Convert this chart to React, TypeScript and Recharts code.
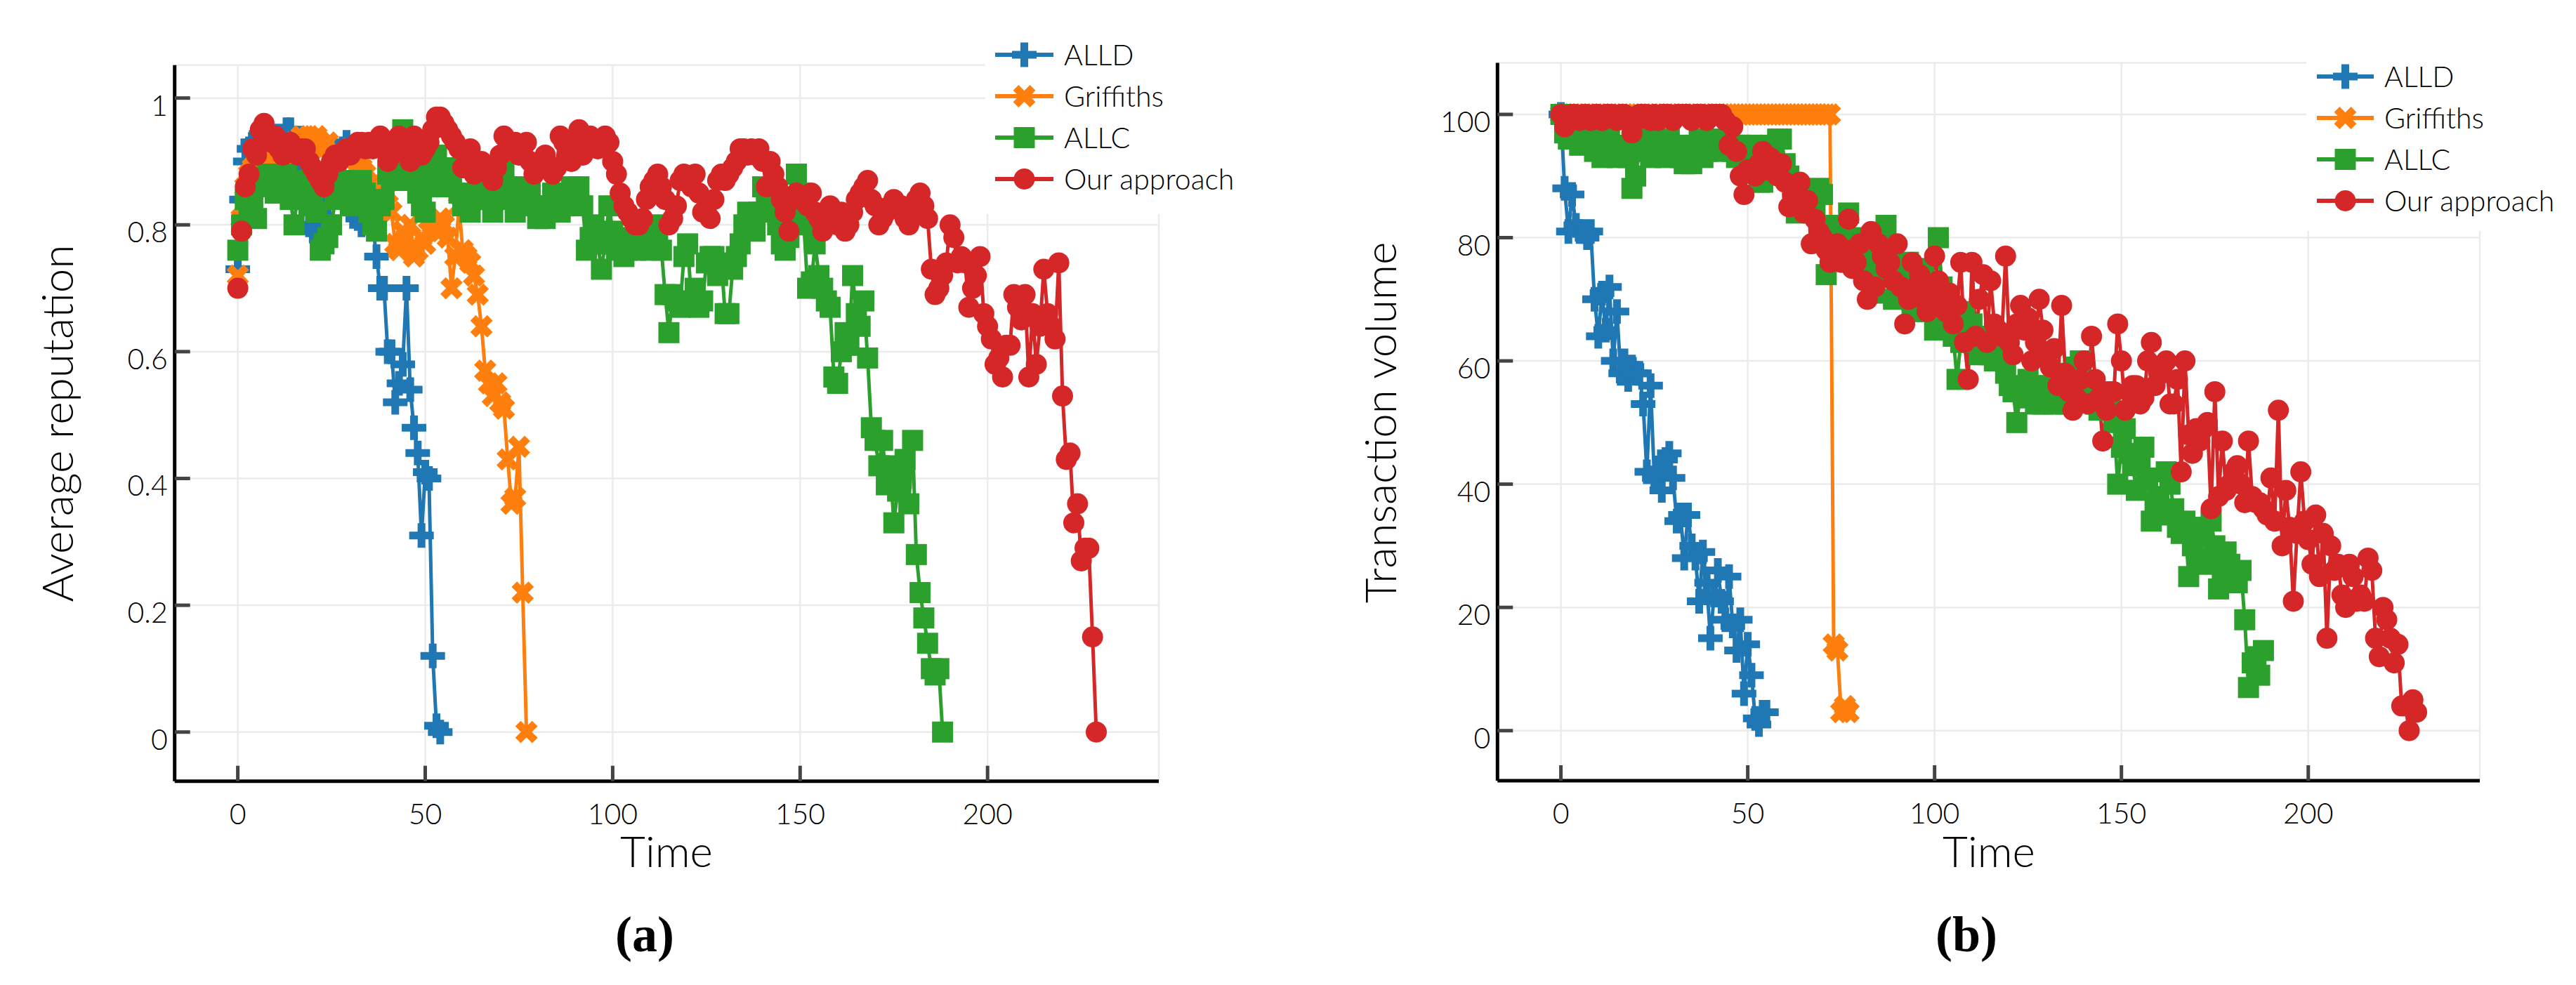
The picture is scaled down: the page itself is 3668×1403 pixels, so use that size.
import React from 'react';
import { LineChart, Line, XAxis, YAxis, CartesianGrid, Legend } from 'recharts';

const BLUE = '#1f77b4';
const ORANGE = '#ff7f0e';
const GREEN = '#2ca02c';
const RED = '#d62728';
const FONT = 'Lato, "DejaVu Sans", sans-serif';

const seriesNames = ['ALLD', 'Griffiths', 'ALLC', 'Our approach'];
const xTicks = [0, 50, 100, 150, 200];
const repTicks = [0, 0.2, 0.4, 0.6, 0.8, 1];
const volTicks = [0, 20, 40, 60, 80, 100];

// (a) Average reputation, one value per time step
const repALLD = [
  0.73, 0.84, 0.9, 0.92, 0.93, 0.93, 0.94, 0.93, 0.92, 0.93,
  0.94, 0.93, 0.94, 0.95, 0.95, 0.92, 0.9, 0.87, 0.84, 0.8,
  0.79, 0.82, 0.84, 0.83, 0.81, 0.85, 0.88, 0.9, 0.92, 0.93,
  0.91, 0.85, 0.81, 0.8, 0.82, 0.83, 0.8, 0.75, 0.7, 0.7,
  0.6, 0.6, 0.52, 0.55, 0.58, 0.7, 0.54, 0.48, 0.44, 0.31,
  0.41, 0.4, 0.12, 0.01, 0.0,
];
const repGriffiths = [
  0.72, 0.81, 0.86, 0.88, 0.89, 0.9, 0.91, 0.91, 0.92, 0.91,
  0.92, 0.91, 0.92, 0.91, 0.92, 0.93, 0.92, 0.94, 0.93, 0.94,
  0.93, 0.94, 0.93, 0.92, 0.93, 0.9, 0.88, 0.86, 0.87, 0.9,
  0.92, 0.91, 0.9, 0.89, 0.88, 0.86, 0.85, 0.87, 0.85, 0.84,
  0.85, 0.82, 0.77, 0.76, 0.79, 0.78, 0.8, 0.75, 0.76, 0.78,
  0.77, 0.79, 0.8, 0.79, 0.81, 0.8, 0.78, 0.7, 0.75, 0.83,
  0.76, 0.75, 0.74, 0.72, 0.69, 0.64, 0.57, 0.55, 0.53, 0.55,
  0.52, 0.51, 0.43, 0.36, 0.37, 0.45, 0.22, 0.0,
];
const repALLC = [
  0.76, 0.8, 0.84, 0.82, 0.83, 0.81, 0.86, 0.87, 0.88, 0.88,
  0.85, 0.87, 0.86, 0.88, 0.84, 0.8, 0.85, 0.87, 0.84, 0.83,
  0.85, 0.82, 0.76, 0.77, 0.78, 0.8, 0.84, 0.86, 0.87, 0.85,
  0.83, 0.83, 0.86, 0.87, 0.85, 0.82, 0.8, 0.79, 0.83, 0.84,
  0.88, 0.87, 0.9, 0.92, 0.95, 0.9, 0.87, 0.88, 0.85, 0.83,
  0.82, 0.86, 0.88, 0.91, 0.88, 0.86, 0.87, 0.88, 0.89, 0.85,
  0.83, 0.85, 0.82, 0.84, 0.86, 0.88, 0.87, 0.84, 0.82, 0.85,
  0.87, 0.89, 0.86, 0.84, 0.82, 0.84, 0.86, 0.85, 0.85, 0.83,
  0.81, 0.83, 0.81, 0.83, 0.85, 0.84, 0.82, 0.83, 0.85, 0.86,
  0.84, 0.86, 0.83, 0.76, 0.78, 0.8, 0.77, 0.73, 0.77, 0.83,
  0.79, 0.76, 0.77, 0.75, 0.76, 0.78, 0.76, 0.77, 0.79, 0.78,
  0.76, 0.8, 0.79, 0.76, 0.69, 0.63, 0.69, 0.68, 0.67, 0.75,
  0.77, 0.68, 0.7, 0.67, 0.68, 0.74, 0.75, 0.75, 0.72, 0.74,
  0.66, 0.66, 0.73, 0.75, 0.77, 0.8, 0.82, 0.81, 0.79, 0.82,
  0.86, 0.83, 0.84, 0.84, 0.8, 0.77, 0.76, 0.78, 0.82, 0.88,
  0.85, 0.8, 0.7, 0.71, 0.77, 0.72, 0.7, 0.68, 0.67, 0.56,
  0.55, 0.6, 0.63, 0.61, 0.72, 0.66, 0.64, 0.68, 0.59, 0.48,
  0.46, 0.42, 0.46, 0.39, 0.42, 0.33, 0.38, 0.4, 0.43, 0.36,
  0.46, 0.28, 0.22, 0.18, 0.14, 0.1, 0.09, 0.1, 0.0,
];
const repOurs = [
  0.7, 0.79, 0.86, 0.88, 0.92, 0.91, 0.95, 0.96, 0.94, 0.93,
  0.94, 0.92, 0.91, 0.92, 0.93, 0.92, 0.91, 0.92, 0.92, 0.9,
  0.89, 0.88, 0.87, 0.86, 0.88, 0.9, 0.91, 0.9, 0.91, 0.92,
  0.91, 0.92, 0.93, 0.93, 0.92, 0.93, 0.92, 0.93, 0.94, 0.92,
  0.9, 0.91, 0.93, 0.94, 0.93, 0.92, 0.9, 0.94, 0.92, 0.91,
  0.92, 0.93, 0.95, 0.97, 0.97, 0.96, 0.95, 0.94, 0.93, 0.92,
  0.89, 0.91, 0.92, 0.88, 0.89, 0.9, 0.89, 0.88, 0.87, 0.89,
  0.91, 0.94, 0.93, 0.92, 0.93, 0.91, 0.92, 0.93, 0.9, 0.88,
  0.89, 0.9, 0.91, 0.89, 0.88, 0.89, 0.94, 0.93, 0.91, 0.9,
  0.93, 0.95, 0.91, 0.92, 0.94, 0.93, 0.92, 0.93, 0.94, 0.93,
  0.9, 0.88, 0.85, 0.83, 0.82, 0.81, 0.8, 0.8, 0.81, 0.84,
  0.86, 0.87, 0.88, 0.86, 0.84, 0.8, 0.81, 0.83, 0.87, 0.88,
  0.87, 0.86, 0.88, 0.85, 0.82, 0.82, 0.81, 0.84, 0.87, 0.88,
  0.87, 0.88, 0.89, 0.9, 0.92, 0.92, 0.91, 0.92, 0.91, 0.92,
  0.9, 0.86, 0.9, 0.88, 0.86, 0.84, 0.82, 0.79, 0.84, 0.85,
  0.84, 0.84, 0.83, 0.85, 0.82, 0.81, 0.79, 0.82, 0.83, 0.81,
  0.8, 0.82, 0.79, 0.8, 0.82, 0.84, 0.85, 0.86, 0.87, 0.84,
  0.83, 0.8, 0.81, 0.82, 0.83, 0.84, 0.83, 0.83, 0.81, 0.8,
  0.82, 0.84, 0.85, 0.83, 0.81, 0.73, 0.69, 0.7, 0.72, 0.74,
  0.8, 0.78, 0.74, 0.75, 0.74, 0.67, 0.7, 0.72, 0.75, 0.66,
  0.64, 0.62, 0.58, 0.59, 0.56, 0.61, 0.61, 0.69, 0.67, 0.65,
  0.69, 0.56, 0.66, 0.58, 0.64, 0.73, 0.66, 0.64, 0.62, 0.74,
  0.53, 0.43, 0.44, 0.33, 0.36, 0.27, 0.29, 0.29, 0.15, 0.0,
];

// (b) Transaction volume, one value per time step
const volALLD = [
  100, 88, 81, 87, 82, 81, 81, 80, 81, 70,
  64, 71, 65, 72, 60, 68, 58, 60, 57, 59,
  58, 58, 53, 42, 56, 41, 42, 39, 44, 45,
  41, 34, 35, 28, 35, 30, 28, 21, 29, 24,
  15, 22, 26, 21, 18, 25, 17, 13, 18, 6,
  14, 9, 2, 1, 3, 3,
];
const volGriffiths = [
  100, 100, 100, 100, 100, 100, 100, 100, 100, 100,
  100, 100, 100, 100, 100, 100, 100, 100, 100, 100,
  100, 100, 100, 100, 100, 100, 100, 100, 100, 100,
  100, 100, 100, 100, 100, 100, 100, 100, 100, 100,
  100, 100, 100, 100, 100, 100, 100, 100, 100, 100,
  100, 100, 100, 100, 100, 100, 100, 100, 100, 100,
  100, 100, 100, 100, 100, 100, 100, 100, 100, 100,
  100, 100, 100, 14, 13, 3, 4, 3,
];
const volALLC = [
  100, 97, 96, 98, 97, 95, 98, 96, 97, 94,
  95, 93, 97, 96, 94, 93, 95, 94, 93, 88,
  90, 94, 97, 95, 93, 96, 94, 95, 93, 96,
  94, 95, 93, 92, 94, 92, 95, 96, 93, 94,
  95, 96, 95, 94, 95, 96, 94, 93, 95, 94,
  93, 95, 92, 89, 89, 93, 95, 94, 96, 96,
  92, 90, 88, 84, 86, 85, 87, 86, 85, 88,
  87, 74, 79, 82, 81, 80, 82, 84, 80, 78,
  77, 79, 76, 75, 71, 74, 80, 82, 77, 70,
  73, 75, 72, 76, 68, 73, 72, 75, 70, 68,
  65, 80, 72, 70, 66, 64, 57, 63, 68, 65,
  66, 64, 61, 62, 63, 61, 60, 62, 60, 58,
  56, 55, 50, 55, 54, 57, 56, 53, 54, 53,
  55, 56, 53, 54, 58, 53, 55, 57, 59, 60,
  55, 56, 54, 53, 52, 55, 54, 52, 50, 40,
  46, 49, 45, 43, 39, 44, 46, 41, 34, 37,
  38, 35, 42, 40, 36, 33, 32, 34, 25, 30,
  33, 28, 32, 27, 34, 30, 23, 26, 29, 27,
  24, 24, 26, 18, 7, 11, 12, 9, 13,
];
const volOurs = [
  100, 98, 99, 100, 100, 99, 100, 100, 99, 100,
  100, 99, 100, 100, 100, 99, 100, 100, 99, 97,
  99, 100, 100, 100, 99, 100, 99, 100, 100, 100,
  99, 100, 100, 100, 100, 99, 100, 100, 100, 99,
  100, 100, 100, 100, 99, 95, 98, 94, 90, 87,
  91, 91, 90, 92, 94, 91, 93, 92, 90, 92,
  89, 85, 87, 86, 89, 84, 86, 79, 83, 81,
  80, 78, 76, 77, 79, 76, 78, 83, 75, 76,
  79, 73, 70, 81, 72, 79, 77, 75, 76, 73,
  79, 72, 66, 70, 76, 72, 74, 70, 68, 72,
  77, 73, 70, 68, 71, 66, 69, 76, 63, 57,
  76, 64, 70, 74, 63, 73, 66, 65, 64, 77,
  63, 61, 66, 69, 65, 67, 60, 63, 70, 65,
  61, 59, 62, 56, 69, 58, 55, 52, 54, 57,
  60, 53, 64, 57, 54, 47, 52, 55, 55, 66,
  60, 52, 55, 56, 56, 53, 54, 60, 63, 56,
  58, 58, 60, 53, 53, 57, 42, 60, 48, 45,
  49, 47, 49, 50, 36, 55, 38, 47, 39, 40,
  42, 43, 40, 37, 47, 38, 37, 37, 36, 35,
  41, 34, 52, 30, 39, 33, 21, 32, 42, 34,
  31, 27, 35, 25, 32, 15, 30, 26, 27, 22,
  20, 27, 25, 21, 22, 21, 28, 26, 15, 12,
  20, 18, 15, 11, 14, 4, 4, 0, 5, 3,
];

const toPoints = (vals: number[]) => vals.map((v, i) => ({ t: i, v }));

type Shape = 'plus' | 'cross' | 'square' | 'circle';
const SHAPE: Record<string, Shape> = {
  ALLD: 'plus',
  Griffiths: 'cross',
  ALLC: 'square',
  'Our approach': 'circle',
};
const COLOR: Record<string, string> = {
  ALLD: BLUE,
  Griffiths: ORANGE,
  ALLC: GREEN,
  'Our approach': RED,
};

function Marker({ cx, cy, shape, color }: { cx: number; cy: number; shape: Shape; color: string }) {
  if (shape === 'plus') {
    return <path transform={`translate(${cx},${cy})`} d="M-17.5,-5.5h35v11h-35z M-5.5,-17.5h11v35h-11z" fill={color} />;
  }
  if (shape === 'cross') {
    return <path transform={`translate(${cx},${cy}) rotate(45)`} d="M-17,-5.5h34v11h-34z M-5.5,-17h11v34h-11z" fill={color} />;
  }
  if (shape === 'square') {
    return <rect x={cx - 15} y={cy - 15} width={30} height={30} fill={color} />;
  }
  return <circle cx={cx} cy={cy} r={15} fill={color} />;
}

const dotRenderer = (shape: Shape, color: string) => (props: any) => {
  const { cx, cy, index } = props;
  if (cx == null || cy == null || Number.isNaN(cx) || Number.isNaN(cy)) {
    return <g key={`d-${index}`} />;
  }
  return (
    <g key={`d-${index}`}>
      <Marker cx={cx} cy={cy} shape={shape} color={color} />
    </g>
  );
};

const fmtTick = (v: number) => String(Math.round(v * 100) / 100);

const XTick = (props: any) => {
  const { x, y, payload } = props;
  return (
    <text x={x} y={y + 61} textAnchor="middle" fontFamily={FONT} fontWeight={300} fontSize={41} fill="#000">
      {fmtTick(payload.value)}
    </text>
  );
};

const YTick = (props: any) => {
  const { x, y, payload } = props;
  return (
    <text x={x} y={y + 25} textAnchor="end" fontFamily={FONT} fontWeight={300} fontSize={41} fill="#000">
      {fmtTick(payload.value)}
    </text>
  );
};

type LegendBox = { x: number; y: number; w: number; h: number; firstY: number; lineX0: number; lineX1: number; textX: number };

const makeLegend = (box: LegendBox) => (props: any) => {
  const raw: any[] = props.payload || [];
  const items = [...raw].sort(
    (a, b) => seriesNames.indexOf(String(a.value)) - seriesNames.indexOf(String(b.value)),
  );
  const rowH = 59;
  const mid = (box.lineX0 + box.lineX1) / 2;
  return (
    <svg width={box.w} height={box.h} style={{ display: 'block', background: '#fff' }}>
      {items.map((it, i) => {
        const name = String(it.value);
        const cy = box.firstY + i * rowH;
        const color = COLOR[name] || it.color;
        return (
          <g key={name}>
            <line x1={box.lineX0} x2={box.lineX1} y1={cy} y2={cy} stroke={color} strokeWidth={6} />
            <Marker cx={mid} cy={cy} shape={SHAPE[name] || 'circle'} color={color} />
            <text x={box.textX} y={cy + 15} fontFamily={FONT} fontWeight={300} fontSize={41} fill="#000">
              {name}
            </text>
          </g>
        );
      })}
    </svg>
  );
};

type PanelProps = {
  left: number;
  width: number;
  plot: { l: number; t: number; r: number; b: number };
  xDomain: [number, number];
  yDomain: [number, number];
  yTicks: number[];
  series: { name: string; values: number[] }[];
  legend: LegendBox;
};

const H = 1403;
const Y_AXIS_W = 100;
const X_AXIS_H = 60;

function Panel({ left, width, plot, xDomain, yDomain, yTicks, series, legend }: PanelProps) {
  const margin = {
    top: plot.t,
    left: plot.l - left - Y_AXIS_W,
    right: left + width - plot.r,
    bottom: H - plot.b - X_AXIS_H,
  };
  return (
    <div style={{ position: 'absolute', left, top: 0, width, height: H }}>
      <LineChart width={width} height={H} margin={margin}>
        <CartesianGrid stroke="#ebebeb" strokeWidth={2.5} />
        <XAxis
          type="number"
          dataKey="t"
          domain={xDomain}
          allowDataOverflow
          ticks={xTicks}
          interval={0}
          height={X_AXIS_H}
          tickSize={-22}
          tickMargin={22}
          axisLine={{ stroke: '#000', strokeWidth: 5 }}
          tickLine={{ stroke: '#444', strokeWidth: 5 }}
          tick={XTick}
        />
        <YAxis
          type="number"
          domain={yDomain}
          allowDataOverflow
          ticks={yTicks}
          interval={0}
          width={Y_AXIS_W}
          tickSize={-22}
          tickMargin={32}
          axisLine={{ stroke: '#000', strokeWidth: 5 }}
          tickLine={{ stroke: '#444', strokeWidth: 5 }}
          tick={YTick}
        />
        {series.map((s) => (
          <Line
            key={s.name}
            name={s.name}
            data={toPoints(s.values)}
            dataKey="v"
            type="linear"
            stroke={COLOR[s.name]}
            strokeWidth={5}
            dot={dotRenderer(SHAPE[s.name], COLOR[s.name])}
            activeDot={false}
            isAnimationActive={false}
            legendType="line"
          />
        ))}
        <Legend
          layout="vertical"
          align="center"
          verticalAlign="middle"
          wrapperStyle={{ left: legend.x, top: legend.y, width: legend.w, height: legend.h, margin: 0, padding: 0 }}
          content={makeLegend(legend)}
        />
      </LineChart>
    </div>
  );
}

export default function App() {
  const seriesA = [
    { name: seriesNames[0], values: repALLD },
    { name: seriesNames[1], values: repGriffiths },
    { name: seriesNames[2], values: repALLC },
    { name: seriesNames[3], values: repOurs },
  ];
  const seriesB = [
    { name: seriesNames[0], values: volALLD },
    { name: seriesNames[1], values: volGriffiths },
    { name: seriesNames[2], values: volALLC },
    { name: seriesNames[3], values: volOurs },
  ];
  const titleStyle = { fontFamily: FONT, fontWeight: 300, fontSize: 62, fill: '#000' } as const;
  const capStyle = { fontFamily: '"Liberation Serif", "DejaVu Serif", serif', fontWeight: 700, fontSize: 72, fill: '#000' } as const;
  return (
    <div style={{ position: 'absolute', left: 0, top: 0, width: 3668, height: H, background: '#fff', overflow: 'hidden' }}>
      <Panel
        left={0}
        width={1840}
        plot={{ l: 248.7, t: 92.7, r: 1650, b: 1112.7 }}
        xDomain={[-16.84, 245.67]}
        yDomain={[-0.0775, 1.052]}
        yTicks={repTicks}
        series={seriesA}
        legend={{ x: 1403, y: 40, w: 437, h: 265, firstY: 38, lineX0: 14, lineX1: 97, textX: 112 }}
      />
      <Panel
        left={1840}
        width={1828}
        plot={{ l: 2132.3, t: 89.5, r: 3531, b: 1112 }}
        xDomain={[-16.97, 245.9]}
        yDomain={[-8.12, 108.37]}
        yTicks={volTicks}
        series={seriesB}
        legend={{ x: 1444, y: 60, w: 384, h: 269, firstY: 49, lineX0: 15, lineX1: 96, textX: 111 }}
      />
      <svg width={3668} height={H} style={{ position: 'absolute', left: 0, top: 0, pointerEvents: 'none' }}>
        <text transform="translate(104,603) rotate(-90)" textAnchor="middle" {...titleStyle}>Average reputation</text>
        <text x={949} y={1235} textAnchor="middle" {...titleStyle}>Time</text>
        <text transform="translate(1988,602) rotate(-90)" textAnchor="middle" {...titleStyle}>Transaction volume</text>
        <text x={2832} y={1235} textAnchor="middle" {...titleStyle}>Time</text>
        <text x={918} y={1355} textAnchor="middle" {...capStyle}>(a)</text>
        <text x={2800} y={1355} textAnchor="middle" {...capStyle}>(b)</text>
      </svg>
    </div>
  );
}
